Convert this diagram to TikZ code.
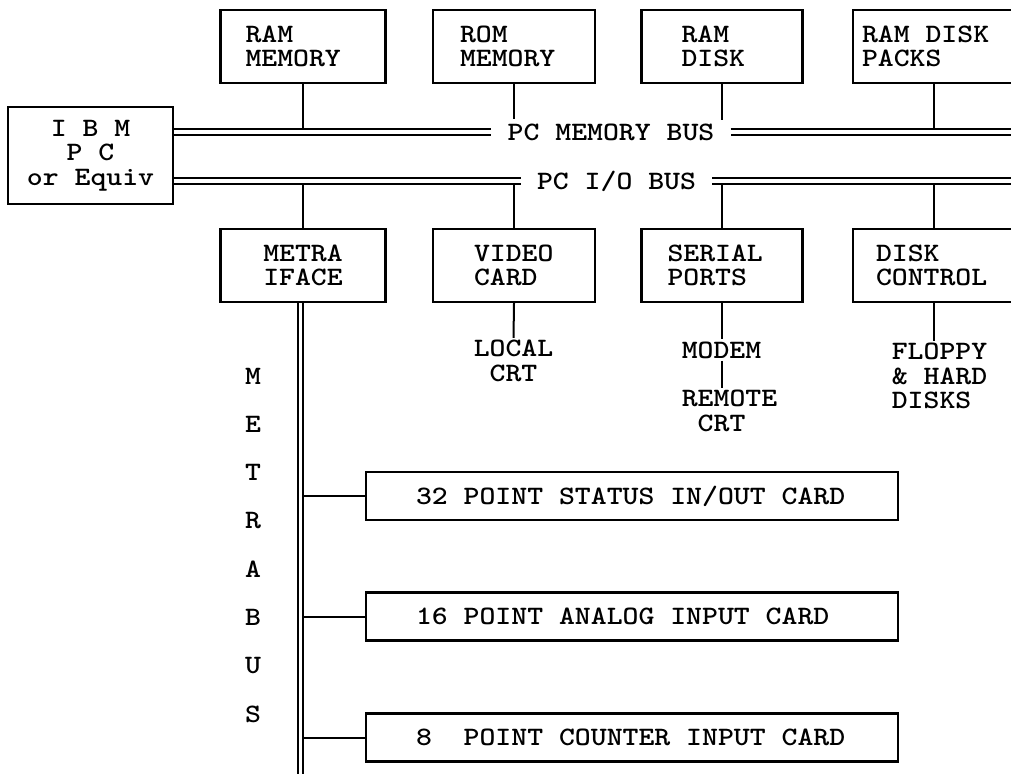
\documentclass[tikz,border=0pt]{standalone}
\usepackage{fontspec}
\setmonofont{lmmonolt10-bold.otf}[FakeStretch=1.14,WordSpace={1,0,0}]
\usetikzlibrary{positioning}

\begin{document}
\begin{tikzpicture}[x=0.5pt,y=-0.5pt,every node/.style={font=\ttfamily\fontsize{13.28pt}{12.25pt}\selectfont}]
  \tikzset{
    unit/.style 2 args={draw,line width=1.15pt,minimum height=36.5pt,inner ysep=0pt,align=flush left,inner xsep=#1,text width=#2},
    card/.style={draw,line width=1.15pt,minimum height=24pt,inner ysep=0pt,inner xsep=25pt,text width=216pt,align=flush left},
    wire/.style={line width=1pt},
    bus/.style={double,line width=1.1pt,double distance=1.6pt},
    tag/.style={inner xsep=8pt,inner ysep=2pt}
  }
  \useasboundingbox (0,0) rectangle (1011,773);
  \clip (0,0) rectangle (1011,773);

  % host and the two PC buses
  \node[draw,line width=1.15pt,minimum width=82.5pt,minimum height=48.5pt,align=center] (ibm) at (90.5,155.5) {I B M\\P C\\or Equiv};
  \node[tag] (memlabel) at (611,132) {PC MEMORY BUS};
  \node[tag] (iolabel) at (616.5,181) {PC I/O BUS};
  \coordinate (memend) at (1030,132);
  \coordinate (ioend) at (1030,181);

  % memory side
  \node[unit={12.5pt}{57.5pt}] (rammem) at (303,46.5) {RAM\\MEMORY};
  \node[unit={13.5pt}{54pt}] (rommem) at (514,46.5) {ROM\\MEMORY};
  \node[unit={20pt}{40.5pt}] (ramdisk) at (722,46.5) {RAM\\DISK};
  \node[unit={4.5pt}{72pt}] (rdpacks) at (934,46.5) {RAM DISK\\PACKS};
  \coordinate (rdend) at (722,120);

  % i/o side
  \node[unit={12.5pt}{57.5pt},align=center] (iface) at (303,265.5) {METRA\\IFACE};
  \node[unit={20.5pt}{40pt}] (video) at (514,265.5) {VIDEO\\CARD};
  \node[unit={13pt}{54.5pt}] (serial) at (722,265.5) {SERIAL\\PORTS};
  \node[unit={11.5pt}{58pt}] (diskctl) at (934,265.5) {DISK\\CONTROL};

  \node[align=center,inner sep=1pt] (localcrt) at (513.5,361) {LOCAL\\CRT};
  \node[inner sep=1pt] (modem) at (721.5,350) {MODEM};
  \node[align=left,inner sep=1pt] (remote) at (729.5,411) {REMOTE\\\phantom{R}CRT};
  \node[align=left,inner sep=1pt] (floppy) at (939.5,376) {FLOPPY\\\& HARD\\DISKS};

  % metrabus and its cards
  \coordinate (mbend) at (300.5,790);
  \foreach \ch [count=\k] in {M,E,T,R,A,B,U,S}
    \node (mb\k) at (253,{376+48.3*(\k-1)}) {\ch};
  \node[card] (status) at (632,496) {32 POINT STATUS IN/OUT CARD};
  \node[card] (analog) at (632,616.5) {16 POINT ANALOG INPUT CARD};
  \node[card] (counter) at (632,737.5) {8~ POINT COUNTER INPUT CARD};

  % taps
  \draw[wire] (rammem.south) -- (rammem.south |- memlabel);
  \draw[wire] (rommem.south) -- (rommem.south |- memlabel.north);
  \draw[wire] (ramdisk.south) -- (rdend);
  \draw[wire] (rdpacks.south) -- (rdpacks.south |- memlabel);
  \draw[wire] (iface.north) -- (iface.north |- iolabel);
  \draw[wire] (video.north) -- (video.north |- iolabel);
  \draw[wire] (serial.north) -- (serial.north |- iolabel);
  \draw[wire] (diskctl.north) -- (diskctl.north |- iolabel);
  \draw[wire] (video.south) -- (localcrt.north);
  \draw[wire] (serial.south) -- (serial.south |- modem.north);
  \draw[wire] (modem.south) -- (modem.south |- remote.north);
  \draw[wire] (diskctl.south) -- (diskctl.south |- floppy.north);
  \draw[wire] (status.west) -- (status.west -| mbend);
  \draw[wire] (analog.west) -- (analog.west -| mbend);
  \draw[wire] (counter.west) -- (counter.west -| mbend);

  % buses last, so the gap stays white
  \draw[bus] (ibm.east |- memlabel) -- (memlabel.west);
  \draw[bus] (memlabel.east) -- (memend);
  \draw[bus] (ibm.east |- iolabel) -- (iolabel.west);
  \draw[bus] (iolabel.east) -- (ioend);
  \draw[bus] (iface.south -| mbend) -- (mbend);
\end{tikzpicture}
\end{document}
